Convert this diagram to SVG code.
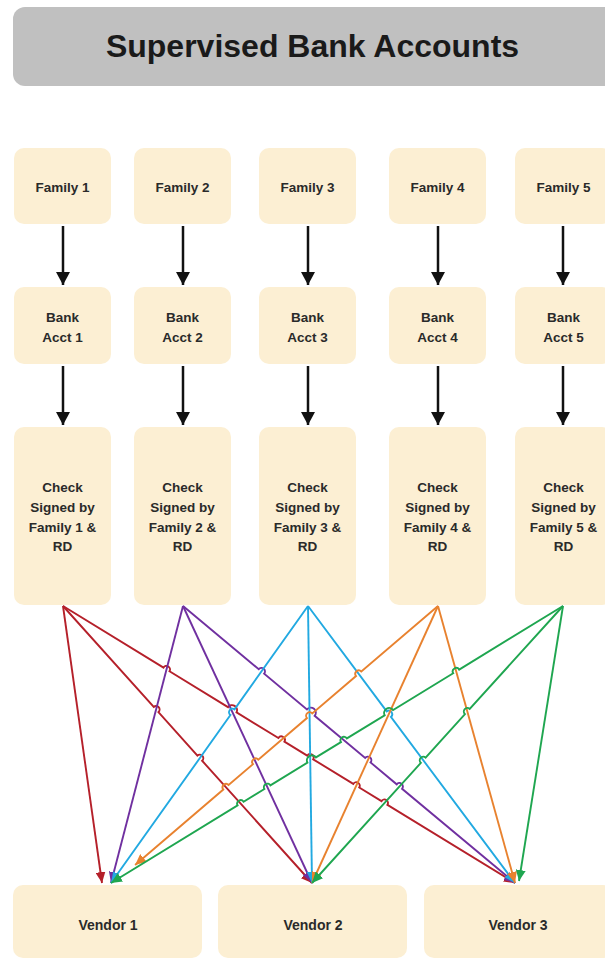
<svg xmlns="http://www.w3.org/2000/svg" width="605" height="960" viewBox="0 0 605 960">
<style>
  .box { fill: #fcefd3; }
  .lbl { font-family: "Liberation Sans", Arial, sans-serif; font-weight: bold; font-size: 13.5px; fill: #2a2a2a; text-anchor: middle; }
  .vlbl { font-family: "Liberation Sans", Arial, sans-serif; font-weight: bold; font-size: 14px; fill: #2a2a2a; text-anchor: middle; }
  .title { font-family: "Liberation Sans", Arial, sans-serif; font-weight: bold; font-size: 32px; fill: #1a1a1a; text-anchor: middle; }
  .blk { stroke: #111; stroke-width: 2.5; fill: none; marker-end: url(#ah-blk); }
  .c { fill: none; stroke-width: 1.9; }
  .red { stroke: #b5202a; marker-end: url(#ah-red); }
  .pur { stroke: #7030a0; marker-end: url(#ah-pur); }
  .cya { stroke: #22a9e1; marker-end: url(#ah-cya); }
  .ora { stroke: #e8822f; marker-end: url(#ah-ora); }
  .grn { stroke: #1fa650; marker-end: url(#ah-grn); }
</style>
<defs>
  <marker id="ah-blk" markerUnits="userSpaceOnUse" markerWidth="14" markerHeight="14" refX="13" refY="7" orient="auto"><path d="M0,0 L13,7 L0,14 z" fill="#111"/></marker>
  <marker id="ah-red" markerUnits="userSpaceOnUse" markerWidth="11" markerHeight="10" refX="11" refY="5" orient="auto"><path d="M0,0 L11,5 L0,10 z" fill="#b5202a"/></marker>
  <marker id="ah-pur" markerUnits="userSpaceOnUse" markerWidth="11" markerHeight="10" refX="11" refY="5" orient="auto"><path d="M0,0 L11,5 L0,10 z" fill="#7030a0"/></marker>
  <marker id="ah-cya" markerUnits="userSpaceOnUse" markerWidth="11" markerHeight="10" refX="11" refY="5" orient="auto"><path d="M0,0 L11,5 L0,10 z" fill="#22a9e1"/></marker>
  <marker id="ah-ora" markerUnits="userSpaceOnUse" markerWidth="11" markerHeight="10" refX="11" refY="5" orient="auto"><path d="M0,0 L11,5 L0,10 z" fill="#e8822f"/></marker>
  <marker id="ah-grn" markerUnits="userSpaceOnUse" markerWidth="11" markerHeight="10" refX="11" refY="5" orient="auto"><path d="M0,0 L11,5 L0,10 z" fill="#1fa650"/></marker>
</defs>
<rect width="605" height="960" fill="#ffffff"/>

<g id="title">
  <rect x="13" y="7" width="605" height="79" rx="12" fill="#c0c0c0"/>
  <text class="title" x="312.5" y="57">Supervised Bank Accounts</text>
</g>

<g id="family1"><rect class="box" x="14" y="148" width="97" height="76" rx="10"/><text class="lbl" x="62.5" y="191.5">Family 1</text></g>
<g id="family2"><rect class="box" x="134" y="148" width="97" height="76" rx="10"/><text class="lbl" x="182.5" y="191.5">Family 2</text></g>
<g id="family3"><rect class="box" x="259" y="148" width="97" height="76" rx="10"/><text class="lbl" x="307.5" y="191.5">Family 3</text></g>
<g id="family4"><rect class="box" x="389" y="148" width="97" height="76" rx="10"/><text class="lbl" x="437.5" y="191.5">Family 4</text></g>
<g id="family5"><rect class="box" x="515" y="148" width="97" height="76" rx="10"/><text class="lbl" x="563.5" y="191.5">Family 5</text></g>

<g id="bank1"><rect class="box" x="14" y="287" width="97" height="77" rx="10"/><text class="lbl" x="62.5" y="321.5">Bank</text><text class="lbl" x="62.5" y="341.5">Acct 1</text></g>
<g id="bank2"><rect class="box" x="134" y="287" width="97" height="77" rx="10"/><text class="lbl" x="182.5" y="321.5">Bank</text><text class="lbl" x="182.5" y="341.5">Acct 2</text></g>
<g id="bank3"><rect class="box" x="259" y="287" width="97" height="77" rx="10"/><text class="lbl" x="307.5" y="321.5">Bank</text><text class="lbl" x="307.5" y="341.5">Acct 3</text></g>
<g id="bank4"><rect class="box" x="389" y="287" width="97" height="77" rx="10"/><text class="lbl" x="437.5" y="321.5">Bank</text><text class="lbl" x="437.5" y="341.5">Acct 4</text></g>
<g id="bank5"><rect class="box" x="515" y="287" width="97" height="77" rx="10"/><text class="lbl" x="563.5" y="321.5">Bank</text><text class="lbl" x="563.5" y="341.5">Acct 5</text></g>

<g id="check1"><rect class="box" x="14" y="427" width="97" height="178" rx="10"/><text class="lbl" x="62.5" y="491.5">Check</text><text class="lbl" x="62.5" y="511.5">Signed by</text><text class="lbl" x="62.5" y="531.5">Family 1 &amp;</text><text class="lbl" x="62.5" y="550.5">RD</text></g>
<g id="check2"><rect class="box" x="134" y="427" width="97" height="178" rx="10"/><text class="lbl" x="182.5" y="491.5">Check</text><text class="lbl" x="182.5" y="511.5">Signed by</text><text class="lbl" x="182.5" y="531.5">Family 2 &amp;</text><text class="lbl" x="182.5" y="550.5">RD</text></g>
<g id="check3"><rect class="box" x="259" y="427" width="97" height="178" rx="10"/><text class="lbl" x="307.5" y="491.5">Check</text><text class="lbl" x="307.5" y="511.5">Signed by</text><text class="lbl" x="307.5" y="531.5">Family 3 &amp;</text><text class="lbl" x="307.5" y="550.5">RD</text></g>
<g id="check4"><rect class="box" x="389" y="427" width="97" height="178" rx="10"/><text class="lbl" x="437.5" y="491.5">Check</text><text class="lbl" x="437.5" y="511.5">Signed by</text><text class="lbl" x="437.5" y="531.5">Family 4 &amp;</text><text class="lbl" x="437.5" y="550.5">RD</text></g>
<g id="check5"><rect class="box" x="515" y="427" width="97" height="178" rx="10"/><text class="lbl" x="563.5" y="491.5">Check</text><text class="lbl" x="563.5" y="511.5">Signed by</text><text class="lbl" x="563.5" y="531.5">Family 5 &amp;</text><text class="lbl" x="563.5" y="550.5">RD</text></g>

<g id="vendor1"><rect class="box" x="13" y="885" width="189" height="73" rx="10"/><text class="vlbl" x="108" y="930">Vendor 1</text></g>
<g id="vendor2"><rect class="box" x="218" y="885" width="189" height="73" rx="10"/><text class="vlbl" x="313" y="930">Vendor 2</text></g>
<g id="vendor3"><rect class="box" x="424" y="885" width="189" height="73" rx="10"/><text class="vlbl" x="518" y="930">Vendor 3</text></g>

<g id="connectors">
  <path class="blk" d="M63,226 V285"/>
  <path class="blk" d="M183,226 V285"/>
  <path class="blk" d="M308,226 V285"/>
  <path class="blk" d="M438,226 V285"/>
  <path class="blk" d="M563,226 V285"/>
  <path class="blk" d="M63,366 V425"/>
  <path class="blk" d="M183,366 V425"/>
  <path class="blk" d="M308,366 V425"/>
  <path class="blk" d="M438,366 V425"/>
  <path class="blk" d="M563,366 V425"/>

  <!-- red (Family 1) -->
  <path class="c red" d="M63,606 L102,883"/>
  <path class="c red" d="M63,606 L153.74,706.94 A3.5,3.5 0 0 1 158.42,712.15 L197.44,755.55 A3.5,3.5 0 0 1 202.12,760.76 L312,883"/>
  <path class="c red" d="M63,606 L163.52,667.6 A3.5,3.5 0 0 1 169.49,671.26 L228.03,707.13 A5,5 0 0 1 236.52,712.34 L278.42,738.02 A3.5,3.5 0 0 1 284.39,741.67 L307.22,755.66 A3.5,3.5 0 0 1 313.18,759.32 L353.27,783.89 A3.5,3.5 0 0 1 359.24,787.55 L381.48,801.17 A3.5,3.5 0 0 1 387.45,804.83 L515,883"/>

  <!-- purple (Family 2) -->
  <path class="c pur" d="M183,606 L111,883"/>
  <path class="c pur" d="M183,606 L312,883"/>
  <path class="c pur" d="M183,606 L258.76,669.21 A3.5,3.5 0 0 1 264.14,673.7 L306.94,709.4 A5,5 0 0 1 314.64,715.83 L365.17,757.99 A3.5,3.5 0 0 1 370.55,762.48 L396.71,784.3 A3.5,3.5 0 0 1 402.09,788.79 L515,883"/>

  <!-- cyan (Family 3) -->
  <path class="c cya" d="M308,606 L234.5,709.35 A3.5,3.5 0 0 0 230.44,715.05 L111,883"/>
  <path class="c cya" d="M308,606 L312,883"/>
  <path class="c cya" d="M308,606 L386.72,711.34 A3.5,3.5 0 0 1 390.9,716.94 L515,883"/>

  <!-- orange (Family 4) -->
  <path class="c ora" d="M438,606 L361.34,671.54 A3.5,3.5 0 0 0 356.03,676.08 L312.26,713.5 A3.5,3.5 0 0 0 306.94,718.05 L258.28,759.65 A3.5,3.5 0 0 0 252.96,764.19 L228.6,785.03 A3.5,3.5 0 0 0 223.29,789.57 L135.1,865"/>
  <path class="c ora" d="M438,606 L312,883"/>
  <path class="c ora" d="M438,606 L515,883"/>

  <!-- green (Family 5) -->
  <path class="c grn" d="M563,606 L459.18,669.63 A3.5,3.5 0 0 0 453.21,673.28 L393.14,710.1 A5,5 0 0 0 384.64,715.3 L346.9,738.43 A3.5,3.5 0 0 0 340.93,742.09 L315.94,757.41 A5,5 0 0 0 307.44,762.62 L270.38,785.33 A3.5,3.5 0 0 0 264.41,788.99 L243.57,801.76 A3.5,3.5 0 0 0 237.61,805.41 L111,883"/>
  <path class="c grn" d="M563,606 L469.7,708.96 A3.5,3.5 0 0 0 464.98,714.17 L425.6,757.63 A3.5,3.5 0 0 0 420.88,762.84 L312,883"/>
  <path class="c grn" d="M563,606 L519,881"/>
</g>
</svg>
